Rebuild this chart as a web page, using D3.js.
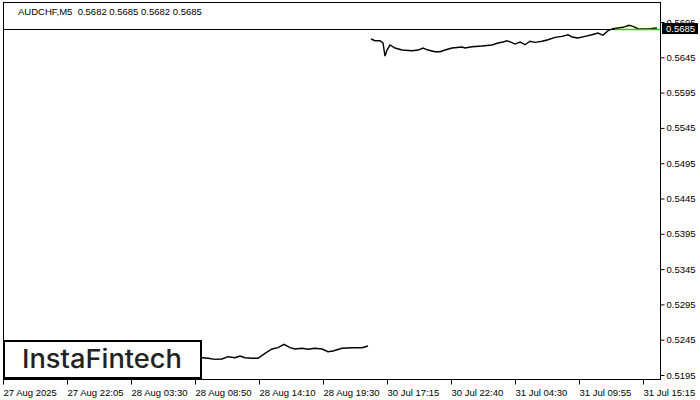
<!DOCTYPE html>
<html>
<head>
<meta charset="utf-8">
<script src="https://cdn.jsdelivr.net/npm/d3@7/dist/d3.min.js"></script>
<style>
  html, body { margin: 0; padding: 0; background: #fff; }
  svg { display: block; }
</style>
</head>
<body>
<svg id="chart" width="700" height="400"></svg>
<script>
// ---- Data (bar index, price) ----
const title = "AUDCHF,M5  0.5682 0.5685 0.5682 0.5685";
const currentPrice = 0.5685;
const askPrice = 0.5685;
const askStartBar = 612;

const xTickBars = [0, 64, 128, 192, 256, 320, 384, 448, 512, 576, 640];
const xTickLabels = ["27 Aug 2025", "27 Aug 22:05", "28 Aug 03:30", "28 Aug 08:50", "28 Aug 14:10",
  "28 Aug 19:30", "30 Jul 17:15", "30 Jul 22:40", "31 Jul 04:30", "31 Jul 09:55", "31 Jul 15:15"];
const yTicks = [0.5195, 0.5245, 0.5295, 0.5345, 0.5395, 0.5445, 0.5495, 0.5545, 0.5595, 0.5645, 0.5695];

const segmentA = [
  [199, 0.52195], [205, 0.52187], [212, 0.52172], [219, 0.52177], [225, 0.52209], [232, 0.52195],
  [237, 0.52219], [242, 0.52195], [249, 0.52187], [255, 0.52187], [262, 0.52257], [269, 0.52318],
  [275, 0.52337], [281, 0.52385], [287, 0.52337], [292, 0.52318], [299, 0.52328], [305, 0.52314],
  [312, 0.52328], [319, 0.52318], [325, 0.52280], [330, 0.52290], [339, 0.52328], [349, 0.52337],
  [359, 0.52337], [365, 0.52361]
];
const segmentB = [
  [368, 0.56709], [372, 0.56685], [377, 0.56685], [380, 0.56653], [382, 0.56468], [384, 0.56553],
  [387, 0.56624], [392, 0.56582], [399, 0.56553], [409, 0.56543], [415, 0.56553], [420, 0.56582],
  [425, 0.56553], [432, 0.56529], [437, 0.56529], [442, 0.56553], [449, 0.56582], [459, 0.56596],
  [462, 0.56582], [469, 0.56600], [479, 0.56610], [489, 0.56624], [495, 0.56653], [500, 0.56667],
  [504, 0.56685], [509, 0.56657], [512, 0.56638], [517, 0.56667], [522, 0.56628], [527, 0.56677],
  [532, 0.56662], [539, 0.56677], [545, 0.56699], [552, 0.56733], [559, 0.56747], [565, 0.56770],
  [569, 0.56738], [575, 0.56723], [582, 0.56747], [589, 0.56770], [595, 0.56794], [600, 0.56762],
  [605, 0.56827], [610, 0.56855], [615, 0.56865], [620, 0.56875], [626, 0.56903], [630, 0.56889],
  [635, 0.56855], [642, 0.56851], [647, 0.56855], [654, 0.56865]
];

// ---- Layout ----
const frame = { left: 3, top: 2, right: 660, bottom: 379 };
const font = "'Liberation Sans', Arial, sans-serif";

const svg = d3.select("#chart");
const x = d3.scaleLinear().domain([0, 657]).range([frame.left, frame.right]);
const y = d3.scaleLinear().domain([0.5195, 0.5695]).range([375, 22]);

// frame
svg.append("rect")
  .attr("x", frame.left + 0.5).attr("y", frame.top + 0.5)
  .attr("width", frame.right - frame.left).attr("height", frame.bottom - frame.top)
  .attr("fill", "none").attr("stroke", "#000").attr("stroke-width", 1);

// title
svg.append("text").attr("x", 18).attr("y", 15)
  .attr("font-family", font).attr("font-size", 9.5).attr("fill", "#000")
  .attr("xml:space", "preserve").style("white-space", "pre")
  .text(title);

// current price line
const cpLineY = Math.round(y(currentPrice)) + 0.5;
svg.append("line")
  .attr("x1", frame.left).attr("x2", frame.right)
  .attr("y1", cpLineY).attr("y2", cpLineY)
  .attr("stroke", "#000").attr("stroke-width", 1);

// price lines
const line = d3.line().x(d => x(d[0])).y(d => y(d[1]));
[segmentA, segmentB].forEach(seg => {
  svg.append("path").datum(seg)
    .attr("d", line)
    .attr("fill", "none").attr("stroke", "#000").attr("stroke-width", 1.4)
    .attr("stroke-linejoin", "miter");
});

// ask line (green)
const askY = Math.round(y(askPrice)) + 0.5;
svg.append("line")
  .attr("x1", x(askStartBar)).attr("x2", frame.right)
  .attr("y1", askY).attr("y2", askY)
  .attr("stroke", "#00e000").attr("stroke-width", 1.5);

// y axis
const yAxis = d3.axisRight(y).tickValues(yTicks).tickSize(4).tickPadding(2)
  .tickFormat(d3.format(".4f"));
const gy = svg.append("g").attr("transform", `translate(${frame.right + 0.5},0)`).call(yAxis);
gy.select(".domain").remove();
gy.selectAll("text").attr("font-family", font).attr("font-size", 9.5).attr("fill", "#000");
gy.selectAll("line").attr("stroke", "#000");

// current price label box
const cpY = y(currentPrice);
svg.append("rect").attr("x", frame.right + 2).attr("y", cpY - 6).attr("width", 36).attr("height", 11)
  .attr("fill", "#000");
svg.append("text").attr("x", frame.right + 6).attr("y", cpY)
  .attr("dy", "0.35em").attr("font-family", font).attr("font-size", 9.5).attr("fill", "#fff")
  .text(d3.format(".4f")(currentPrice));

// x axis
const xAxis = d3.axisBottom(x).tickValues(xTickBars).tickSize(5)
  .tickFormat((d, i) => xTickLabels[i]);
const gx = svg.append("g").attr("transform", `translate(0,${frame.bottom + 0.5})`).call(xAxis);
gx.select(".domain").remove();
gx.selectAll("line").attr("stroke", "#000");
gx.selectAll("text").attr("text-anchor", "start").attr("x", 0).attr("dy", "0.9em")
  .attr("font-family", font).attr("font-size", 9.5).attr("fill", "#000");

// logo
svg.append("rect").attr("x", 4).attr("y", 341).attr("width", 197).attr("height", 37)
  .attr("fill", "#fff").attr("stroke", "#000").attr("stroke-width", 2);
svg.append("text").attr("x", 22).attr("y", 368)
  .attr("font-family", "Inter, 'Open Sans', sans-serif").attr("font-size", 26).attr("font-weight", 500)
  .attr("fill", "#222").attr("textLength", 160).attr("lengthAdjust", "spacingAndGlyphs")
  .text("InstaFintech");
</script>
</body>
</html>
